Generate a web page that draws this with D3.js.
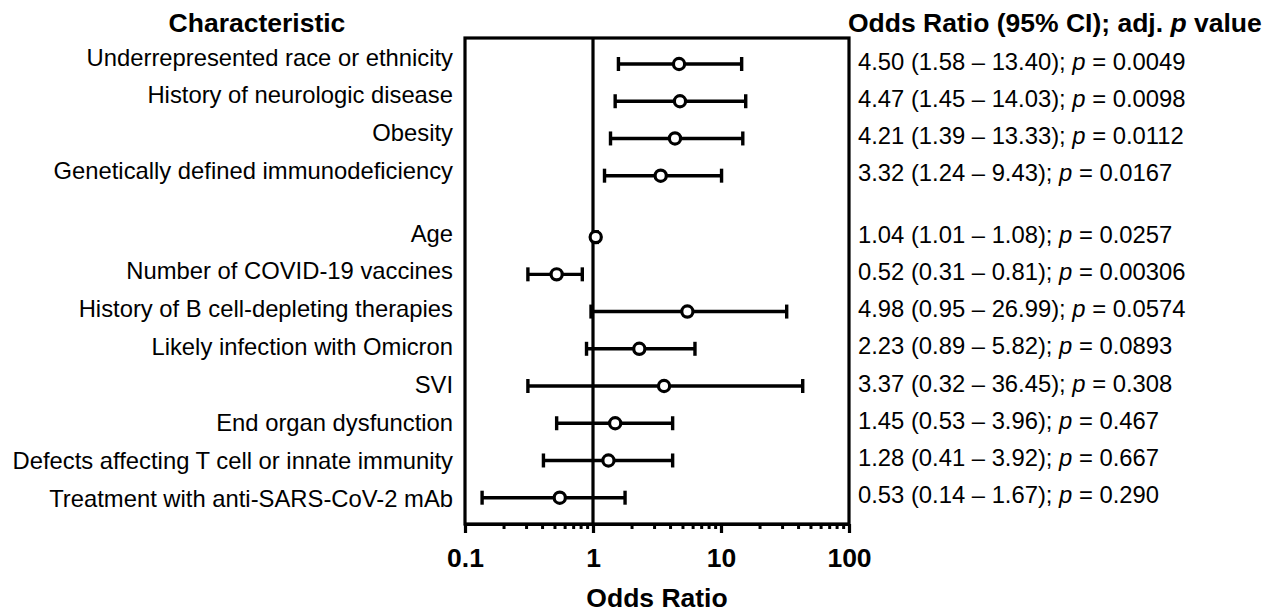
<!DOCTYPE html>
<html lang="en">
<head>
  <meta charset="UTF-8" />
  <title>Odds Ratio forest plot</title>
  <script src="https://d3js.org/d3.v7.min.js"></script>
  <style>
    body { margin: 0; background: #fff; }
    svg text { font-family: "Liberation Sans", Arial, sans-serif; fill: #000; white-space: pre; }
  </style>
</head>
<body>
  <div id="chart"></div>

  <script>
    // characteristics, top to bottom; first four form their own group
    const characteristics = [
      "Underrepresented race or ethnicity",
      "History of neurologic disease",
      "Obesity",
      "Genetically defined immunodeficiency",
      "Age",
      "Number of COVID-19 vaccines",
      "History of B cell-depleting therapies",
      "Likely infection with Omicron",
      "SVI",
      "End organ dysfunction",
      "Defects affecting T cell or innate immunity",
      "Treatment with anti-SARS-CoV-2 mAb"
    ];
    const group = [1, 1, 1, 1, 2, 2, 2, 2, 2, 2, 2, 2];

    // plotted marker and whisker values
    const oddsRatio = [4.70, 4.78, 4.37, 3.38, 1.05, 0.52, 5.46, 2.30, 3.59, 1.49, 1.32, 0.55];
    const ciLower   = [1.58, 1.49, 1.37, 1.23, 1.01, 0.31, 0.965, 0.89, 0.31, 0.52, 0.41, 0.136];
    const ciUpper   = [14.5, 15.6, 14.8, 10.1, 1.08, 0.825, 32.6, 6.26, 43.5, 4.19, 4.19, 1.78];

    // printed values in the right-hand column
    const orText  = ["4.50", "4.47", "4.21", "3.32", "1.04", "0.52", "4.98", "2.23", "3.37", "1.45", "1.28", "0.53"];
    const loText  = ["1.58", "1.45", "1.39", "1.24", "1.01", "0.31", "0.95", "0.89", "0.32", "0.53", "0.41", "0.14"];
    const hiText  = ["13.40", "14.03", "13.33", "9.43", "1.08", "0.81", "26.99", "5.82", "36.45", "3.96", "3.92", "1.67"];
    const pText   = ["0.0049", "0.0098", "0.0112", "0.0167", "0.0257", "0.00306", "0.0574", "0.0893", "0.308", "0.467", "0.667", "0.290"];

    const majorTicks = [0.1, 1, 10, 100];
    const majorLabels = ["0.1", "1", "10", "100"];

    const W = 1280, H = 614;
    const plot = {left: 465, right: 849, top: 38, bottom: 524};
    const groupGap = 0.65;

    const rows = characteristics.map((c, i) => ({
      label: c,
      pos: i + (group[i] === 2 ? groupGap : 0),
      or: oddsRatio[i], lo: ciLower[i], hi: ciUpper[i],
      orT: orText[i], loT: loText[i], hiT: hiText[i], p: pText[i]
    }));

    const svg = d3.select("#chart")
      .append("svg")
      .attr("width", W)
      .attr("height", H);

    const x = d3.scaleLog()
      .domain([0.1, 100])
      .range([plot.left, plot.right]);

    const maxPos = d3.max(rows, d => d.pos);
    const y = d3.scaleLinear()
      .domain([0, maxPos])
      .range([64, 497.7]);

    // left labels sit on a slightly wider spacing than the markers
    const yLabel = d3.scaleLinear()
      .domain([0, maxPos])
      .range([65.5, 506.5]);

    // frame
    svg.append("rect")
      .attr("x", plot.left)
      .attr("y", plot.top)
      .attr("width", plot.right - plot.left)
      .attr("height", plot.bottom - plot.top)
      .attr("fill", "none")
      .attr("stroke", "#000")
      .attr("stroke-width", 3.2);

    // reference line at OR = 1
    svg.append("line")
      .attr("x1", x(1)).attr("x2", x(1))
      .attr("y1", plot.top).attr("y2", plot.bottom)
      .attr("stroke", "#000")
      .attr("stroke-width", 3.2);

    // minor ticks
    const minorTicks = [];
    [0.1, 1, 10].forEach(d => { for (let k = 2; k <= 9; k++) minorTicks.push(d * k); });

    svg.append("g")
      .attr("class", "minor-axis")
      .attr("transform", `translate(0,${plot.bottom})`)
      .call(d3.axisBottom(x).tickValues(minorTicks).tickSize(5).tickSizeOuter(0).tickFormat(""))
      .call(g => g.select(".domain").remove())
      .call(g => g.selectAll("line").attr("stroke", "#000").attr("stroke-width", 3));

    // major ticks + labels
    svg.append("g")
      .attr("class", "x-axis")
      .attr("transform", `translate(0,${plot.bottom})`)
      .call(d3.axisBottom(x)
        .tickValues(majorTicks)
        .tickSize(9)
        .tickSizeOuter(0)
        .tickPadding(15)
        .tickFormat((d, i) => majorLabels[i]))
      .call(g => g.select(".domain").attr("stroke", "#000").attr("stroke-width", 3.2))
      .call(g => g.selectAll("line").attr("stroke", "#000").attr("stroke-width", 3.2))
      .call(g => g.selectAll("text")
        .attr("fill", "#000")
        .style("font-family", "'Liberation Sans', Arial, sans-serif")
        .style("font-size", "26.5px")
        .style("font-weight", "bold"));

    // axis title
    svg.append("text")
      .attr("x", (plot.left + plot.right) / 2)
      .attr("y", 607)
      .attr("text-anchor", "middle")
      .style("font-size", "26.5px")
      .style("font-weight", "bold")
      .text("Odds Ratio");

    // column headers
    svg.append("text")
      .attr("x", 257)
      .attr("y", 32)
      .attr("text-anchor", "middle")
      .style("font-size", "26.5px")
      .style("font-weight", "bold")
      .text("Characteristic");

    const hdr = svg.append("text")
      .attr("x", 848)
      .attr("y", 32)
      .style("font-size", "26.5px")
      .style("font-weight", "bold");
    hdr.append("tspan").text("Odds Ratio (95% CI); adj. ");
    hdr.append("tspan").style("font-style", "italic").text("p");
    hdr.append("tspan").text(" value");

    // error bars
    const bars = svg.append("g").selectAll("g")
      .data(rows)
      .enter()
      .append("g");

    bars.append("line")
      .attr("x1", d => x(d.lo))
      .attr("x2", d => x(d.hi))
      .attr("y1", d => y(d.pos))
      .attr("y2", d => y(d.pos))
      .attr("stroke", "#000")
      .attr("stroke-width", 3.4);

    bars.selectAll(".cap")
      .data(d => [[d.lo, d.pos], [d.hi, d.pos]])
      .enter()
      .append("line")
      .attr("class", "cap")
      .attr("x1", d => x(d[0]))
      .attr("x2", d => x(d[0]))
      .attr("y1", d => y(d[1]) - 7)
      .attr("y2", d => y(d[1]) + 7)
      .attr("stroke", "#000")
      .attr("stroke-width", 3.4);

    bars.append("circle")
      .attr("cx", d => x(d.or))
      .attr("cy", d => y(d.pos))
      .attr("r", 5.6)
      .attr("fill", "#fff")
      .attr("stroke", "#000")
      .attr("stroke-width", 3.2);

    // left labels
    svg.append("g").selectAll("text")
      .data(rows)
      .enter()
      .append("text")
      .attr("x", 453)
      .attr("y", d => yLabel(d.pos))
      .attr("text-anchor", "end")
      .style("font-size", "23.8px")
      .text(d => d.label);

    // right-hand values
    const vals = svg.append("g").selectAll("text")
      .data(rows)
      .enter()
      .append("text")
      .attr("x", 858)
      .attr("y", d => y(d.pos) + 5.5)
      .style("font-size", "23.8px");

    vals.append("tspan").text(d => `${d.orT} (${d.loT} \u2013 ${d.hiT}); `);
    vals.append("tspan").style("font-style", "italic").text("p");
    vals.append("tspan").text(d => ` = ${d.p}`);
  </script>
</body>
</html>
